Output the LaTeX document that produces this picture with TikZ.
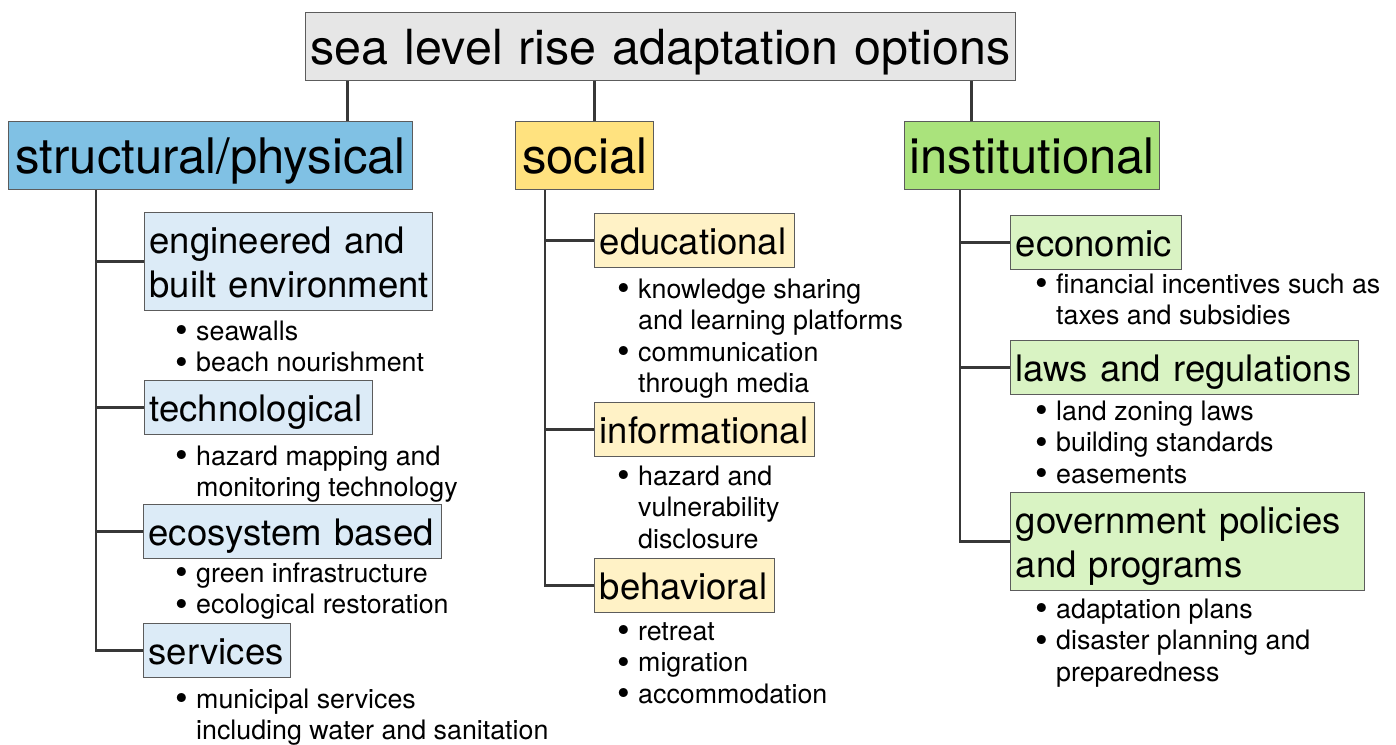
\documentclass[tikz,border=0pt]{standalone}
\usepackage{graphicx}
\usepackage{fontspec}
\setmainfont{TeX Gyre Heros}

\definecolor{boxline}{HTML}{5C5C5C}
\definecolor{linkline}{HTML}{383838}
\definecolor{titlefill}{HTML}{E6E6E6}
\definecolor{structfill}{HTML}{80C1E4}
\definecolor{socialfill}{HTML}{FFE27F}
\definecolor{instfill}{HTML}{AAE37C}
\definecolor{structsub}{HTML}{DCEBF7}
\definecolor{socialsub}{HTML}{FFF2C6}
\definecolor{instsub}{HTML}{D9F3C3}

% one or more left-aligned lines, baseline on the first line
\newcommand{\stacklines}[1]{\begin{tabular}[t]{@{}l@{}}#1\end{tabular}}
\newcommand{\itembullet}{\makebox[21pt][l]{\raisebox{-0.1em}{\scalebox{1.35}{\textbullet}}}}
\newcommand{\itemcont}{\hspace*{21pt}}

\tikzset{
  boxbase/.style={anchor=north west, draw=boxline, line width=1.4pt, inner xsep=5pt},
  headbox/.style={boxbase, font=\fontsize{49}{58}\selectfont, align=center,
    text height=36pt, text depth=0pt, inner ysep=16pt},
  titlebox/.style={headbox, font=\fontsize{48.4}{58}\selectfont},
  subbox/.style={boxbase, font=\fontsize{36.5}{44}\selectfont, align=left,
    text height=27pt, text depth=0pt, inner ysep=13.5pt},
  twolines/.style={text depth=44pt},
  bullets/.style={anchor=base west, inner sep=0pt, font=\fontsize{26.8}{31.5}\selectfont},
  link/.style={draw=linkline, line width=2.6pt},
}

\begin{document}
\begin{tikzpicture}[x=1pt, y=-1pt]
\useasboundingbox (0,0) rectangle (1396,744);
\fill[white] (0,0) rectangle (1396,744);

% title and the three categories
\node[titlebox, fill=titlefill, text width=700pt] (title) at (305,12) {\stacklines{sea level rise adaptation options}};
\node[headbox, fill=structfill, text width=394pt] (sp) at (8,121) {\stacklines{structural/physical}};
\node[headbox, fill=socialfill, text width=128pt] (so) at (515,121) {\stacklines{social}};
\node[headbox, fill=instfill, text width=245pt] (in) at (904,121) {\stacklines{institutional}};

% structural/physical options
\node[subbox, twolines, fill=structsub, text width=278pt] (eng) at (144,212) {\stacklines{engineered and\\built environment}};
\node[subbox, fill=structsub, text width=218pt] (tech) at (144,380) {\stacklines{technological}};
\node[subbox, fill=structsub, text width=288pt] (eco) at (143,504) {\stacklines{ecosystem based}};
\node[subbox, fill=structsub, text width=137pt] (serv) at (143,623) {\stacklines{services}};

% social options
\node[subbox, fill=socialsub, text width=190pt] (edu) at (594,213) {\stacklines{educational}};
\node[subbox, fill=socialsub, text width=210pt] (info) at (594,402) {\stacklines{informational}};
\node[subbox, fill=socialsub, text width=170pt] (beh) at (594,558) {\stacklines{behavioral}};

% institutional options
\node[subbox, fill=instsub, text width=161pt] (econ) at (1010,215) {\stacklines{economic}};
\node[subbox, fill=instsub, text width=338pt] (laws) at (1010,340) {\stacklines{laws and regulations}};
\node[subbox, twolines, fill=instsub, text width=344pt] (gov) at (1010,492) {\stacklines{government policies\\and programs}};

% examples under each option
\node[bullets] (engl) at (175,340) {\stacklines{\itembullet seawalls\\\itembullet beach nourishment}};
\node[bullets] (techl) at (175,465) {\stacklines{\itembullet hazard mapping and\\\itemcont monitoring technology}};
\node[bullets] (ecol) at (175,582) {\stacklines{\itembullet green infrastructure\\\itembullet ecological restoration}};
\node[bullets] (servl) at (175,708) {\stacklines{\itembullet municipal services\\\itemcont including water and sanitation}};

\node[bullets] (edul) at (617,298) {\stacklines{\itembullet knowledge sharing\\\itemcont and learning platforms\\\itembullet communication\\\itemcont through media}};
\node[bullets] (infol) at (617,485) {\stacklines{\itembullet hazard and\\\itemcont vulnerability\\\itemcont disclosure}};
\node[bullets] (behl) at (617,640) {\stacklines{\itembullet retreat\\\itembullet migration\\\itembullet accommodation}};

\node[bullets] (econl) at (1035,293) {\stacklines{\itembullet financial incentives such as\\\itemcont taxes and subsidies}};
\node[bullets] (lawsl) at (1035,420) {\stacklines{\itembullet land zoning laws\\\itembullet building standards\\\itembullet easements}};
\node[bullets] (govl) at (1035,618) {\stacklines{\itembullet adaptation plans\\\itembullet disaster planning and\\\itemcont preparedness}};

% title to categories
\draw[link] ([xshift=137pt]sp.north) -- ([xshift=137pt]sp.north |- title.south);
\draw[link] ([xshift=10pt]so.north) -- ([xshift=10pt]so.north |- title.south);
\draw[link] ([xshift=-60.5pt]in.north) -- ([xshift=-60.5pt]in.north |- title.south);

% trunks from each category
\coordinate (sptrunk) at ([xshift=88pt]sp.south west);
\coordinate (sotrunk) at ([xshift=30pt]so.south west);
\coordinate (intrunk) at ([xshift=56pt]in.south west);

\draw[link] (sptrunk) |- (serv.west);
\draw[link] (eng.west) -- (eng.west -| sptrunk);
\draw[link] (tech.west) -- (tech.west -| sptrunk);
\draw[link] (eco.west) -- (eco.west -| sptrunk);

\draw[link] (sotrunk) |- (beh.west);
\draw[link] (edu.west) -- (edu.west -| sotrunk);
\draw[link] (info.west) -- (info.west -| sotrunk);

\draw[link] (intrunk) |- (gov.west);
\draw[link] (econ.west) -- (econ.west -| intrunk);
\draw[link] (laws.west) -- (laws.west -| intrunk);
\end{tikzpicture}
\end{document}
